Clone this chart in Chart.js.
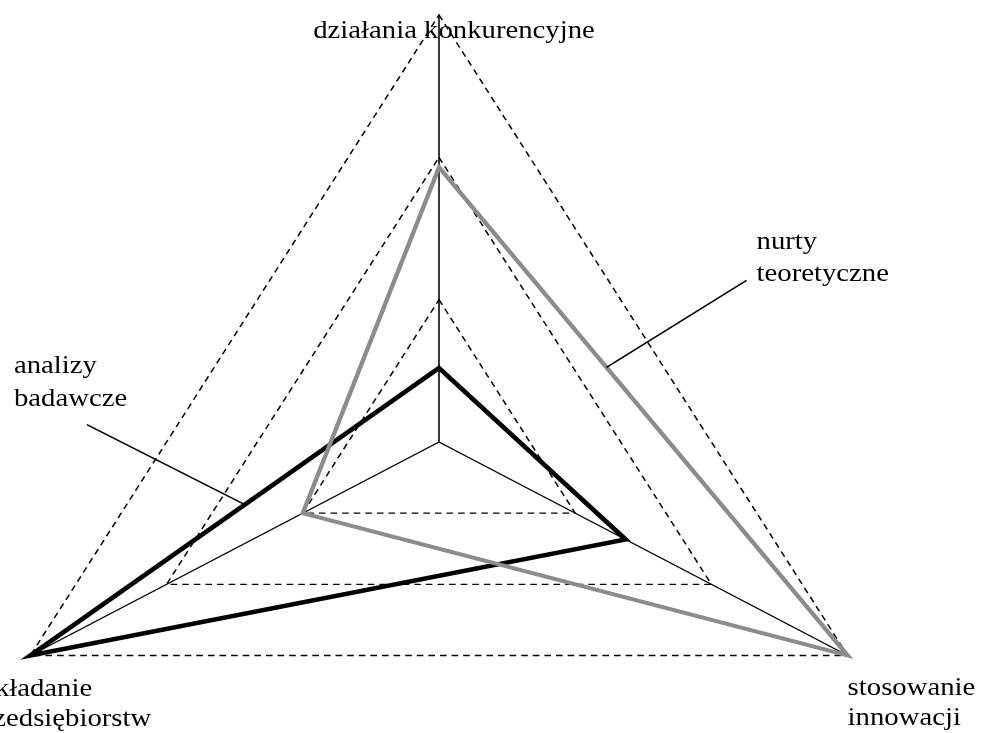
<!DOCTYPE html>
<html>
<head>
<meta charset="utf-8">
<script src="https://cdn.jsdelivr.net/npm/chart.js@4/dist/chart.umd.min.js"></script>
<style>
  html, body { margin: 0; padding: 0; background: #fff; }
  canvas { display: block; }
</style>
</head>
<body>
<canvas id="c" width="982" height="733"></canvas>
<script>
// ---- data ----
const categories = [
  ['działania konkurencyjne'],
  ['stosowanie', 'innowacji'],
  ['zakładanie', 'przedsiębiorstw']
];
const nurtyTeoretyczne = [1.93, 3, 1];
const analizyBadawcze = [0.52, 1.37, 3];
const scaleMin = 0;
const scaleMax = 3;
const scaleStep = 1;
const seriesNames = [['nurty', 'teoretyczne'], ['analizy', 'badawcze']];

// ---- layout / style ----
const S = 1.105;           // horizontal stretch of the whole figure
const CX = 439 / S, CY = 442, R = 427;
const FONT = '26px "Liberation Serif", "Times New Roman", serif';

const labelStyle = [
  { align: 'center', dx: 15, dy: [23] },
  { align: 'left', dx: 0, dy: [39, 69] },
  { align: 'left', dx: -61, dy: [40, 70] }
];
const notes = [
  { ds: 0, from: 0, to: 1, t: 0.41, lead: [140, -87], tx: 150, ty: [-118, -86] },
  { ds: 1, from: 2, to: 0, t: 0.525, lead: [-158, -80], tx: -231, ty: [-132, -99] }
];

const stretchPlugin = {
  id: 'stretch',
  beforeDraw(chart) {
    chart.ctx.save();
    chart.ctx.scale(S, 1);
  },
  afterDraw(chart) {
    const ctx = chart.ctx;
    const sc = chart.scales.r;
    ctx.fillStyle = '#000';
    ctx.font = FONT;
    ctx.textBaseline = 'alphabetic';
    const outer = sc.getDistanceFromCenterForValue(scaleMax);
    categories.forEach((lines, i) => {
      const v = sc.getPointPosition(i, outer);
      const st = labelStyle[i];
      ctx.textAlign = st.align;
      lines.forEach((ln, k) => {
        ctx.fillText(ln, (v.x * S + st.dx) / S, v.y + st.dy[k]);
      });
    });
    // series annotations with leader lines
    notes.forEach((n, idx) => {
      const pts = chart.getDatasetMeta(n.ds).data;
      const a = pts[n.from], b = pts[n.to];
      const ex = (a.x + (b.x - a.x) * n.t) * S;
      const ey = a.y + (b.y - a.y) * n.t;
      ctx.save();
      ctx.strokeStyle = '#000';
      ctx.lineWidth = 1.5;
      ctx.setLineDash([]);
      ctx.beginPath();
      ctx.moveTo(ex / S, ey);
      ctx.lineTo((ex + n.lead[0]) / S, ey + n.lead[1]);
      ctx.stroke();
      ctx.restore();
      ctx.textAlign = 'left';
      seriesNames[idx].forEach((ln, k) => {
        ctx.fillText(ln, (ex + n.tx) / S, ey + n.ty[k]);
      });
    });
    ctx.restore();
  }
};

new Chart(document.getElementById('c'), {
  type: 'radar',
  data: {
    labels: categories,
    datasets: [
      {
        label: seriesNames[0].join(' '),
        data: nurtyTeoretyczne,
        borderColor: '#8c8c8c',
        borderWidth: 4,
        backgroundColor: 'rgba(0,0,0,0)',
        fill: false,
        pointRadius: 0,
        pointHoverRadius: 0,
        borderJoinStyle: 'miter',
        tension: 0,
        clip: false
      },
      {
        label: seriesNames[1].join(' '),
        data: analizyBadawcze,
        borderColor: '#000000',
        borderWidth: 4.5,
        backgroundColor: 'rgba(0,0,0,0)',
        fill: false,
        pointRadius: 0,
        pointHoverRadius: 0,
        borderJoinStyle: 'miter',
        tension: 0,
        clip: false
      }
    ]
  },
  options: {
    responsive: false,
    animation: false,
    devicePixelRatio: 1,
    plugins: { legend: { display: false }, tooltip: { enabled: false } },
    layout: { padding: 0 },
    scales: {
      r: {
        min: scaleMin,
        max: scaleMax,
        ticks: { display: false, stepSize: scaleStep },
        pointLabels: { display: false },
        grid: { color: '#000', lineWidth: 1.4, borderDash: [6, 4.5] },
        border: { dash: [6, 4.5] },
        angleLines: { color: '#000', lineWidth: 1.4 },
        afterFit(sc) {
          sc.xCenter = CX;
          sc.yCenter = CY;
          sc.drawingArea = R;
        }
      }
    }
  },
  plugins: [stretchPlugin]
});
</script>
</body>
</html>
